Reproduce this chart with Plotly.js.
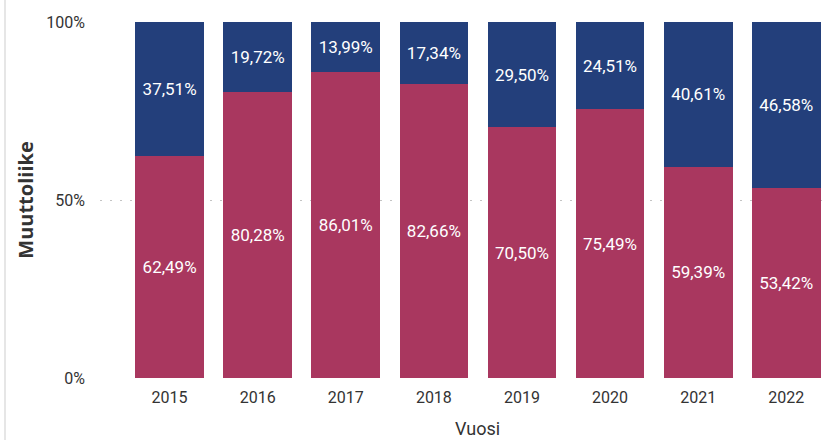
<!DOCTYPE html>
<html>
<head>
<meta charset="utf-8">
<script src="https://cdn.plot.ly/plotly-3.0.1.min.js"></script>
<style>html,body{margin:0;padding:0;background:#fff;}#chart{width:825px;height:440px;}</style>
</head>
<body>
<div id="chart"></div>
<script>
var years = ['2015','2016','2017','2018','2019','2020','2021','2022'];
var bottomShare = [62.49, 80.28, 86.01, 82.66, 70.50, 75.49, 59.39, 53.42];
var topShare = [37.51, 19.72, 13.99, 17.34, 29.50, 24.51, 40.61, 46.58];
var yTickVals = [0, 50, 100];
var yTickText = ['0%', '50%', '100%'];
var bottomColor = '#A9375F';
var topColor = '#233F7B';
var FONT = 'Roboto, "Segoe UI", sans-serif';

var common = {
  type: 'bar',
  x: years,
  texttemplate: '%{y:.2f}%',
  textposition: 'inside',
  insidetextanchor: 'middle',
  textangle: 0,
  constraintext: 'none',
  textfont: {family: FONT, size: 17, color: '#ffffff'},
  hoverinfo: 'x+y'
};
var traces = [
  Object.assign({}, common, {y: bottomShare, name: 'A', marker: {color: bottomColor}}),
  Object.assign({}, common, {y: topShare, name: 'B', marker: {color: topColor}})
];

var layout = {
  width: 825, height: 440,
  barmode: 'stack',
  bargap: 0.22,
  separators: ', ',
  showlegend: false,
  paper_bgcolor: '#ffffff',
  plot_bgcolor: '#ffffff',
  margin: {l: 100, r: 0, t: 22, b: 62},
  font: {family: FONT, color: '#333333'},
  xaxis: {
    type: 'category',
    range: [-0.79, 7.44],
    showgrid: false, zeroline: false, showline: false,
    ticks: '',
    ticklabelstandoff: 8,
    tickfont: {family: FONT, size: 16, color: '#333333'}
  },
  yaxis: {
    range: [0, 100],
    tickvals: yTickVals,
    ticktext: yTickText,
    showgrid: true,
    gridcolor: '#c4c4c4',
    gridwidth: 1,
    griddash: '2px,8px',
    zeroline: false, showline: false,
    ticks: '',
    ticklabelstandoff: 14,
    tickfont: {family: FONT, size: 16, color: '#333333'},
    title: {text: '<b>Muuttoliike</b>', standoff: 7, font: {family: '"Open Sans", sans-serif', size: 20, color: '#333333'}}
  },
  annotations: [{
    text: 'Vuosi', xref: 'paper', yref: 'paper',
    x: 0.521, y: -0.141, xanchor: 'center', yanchor: 'middle',
    showarrow: false, font: {family: FONT, size: 18, color: '#333333'}
  }],
  shapes: [{
    type: 'line', xref: 'paper', yref: 'paper',
    x0: -0.131, x1: -0.131, y0: -0.2, y1: 1.1,
    line: {color: '#e6e6e6', width: 2}
  }]
};

Plotly.newPlot('chart', traces, layout, {displayModeBar: false, staticPlot: true});
</script>
</body>
</html>
